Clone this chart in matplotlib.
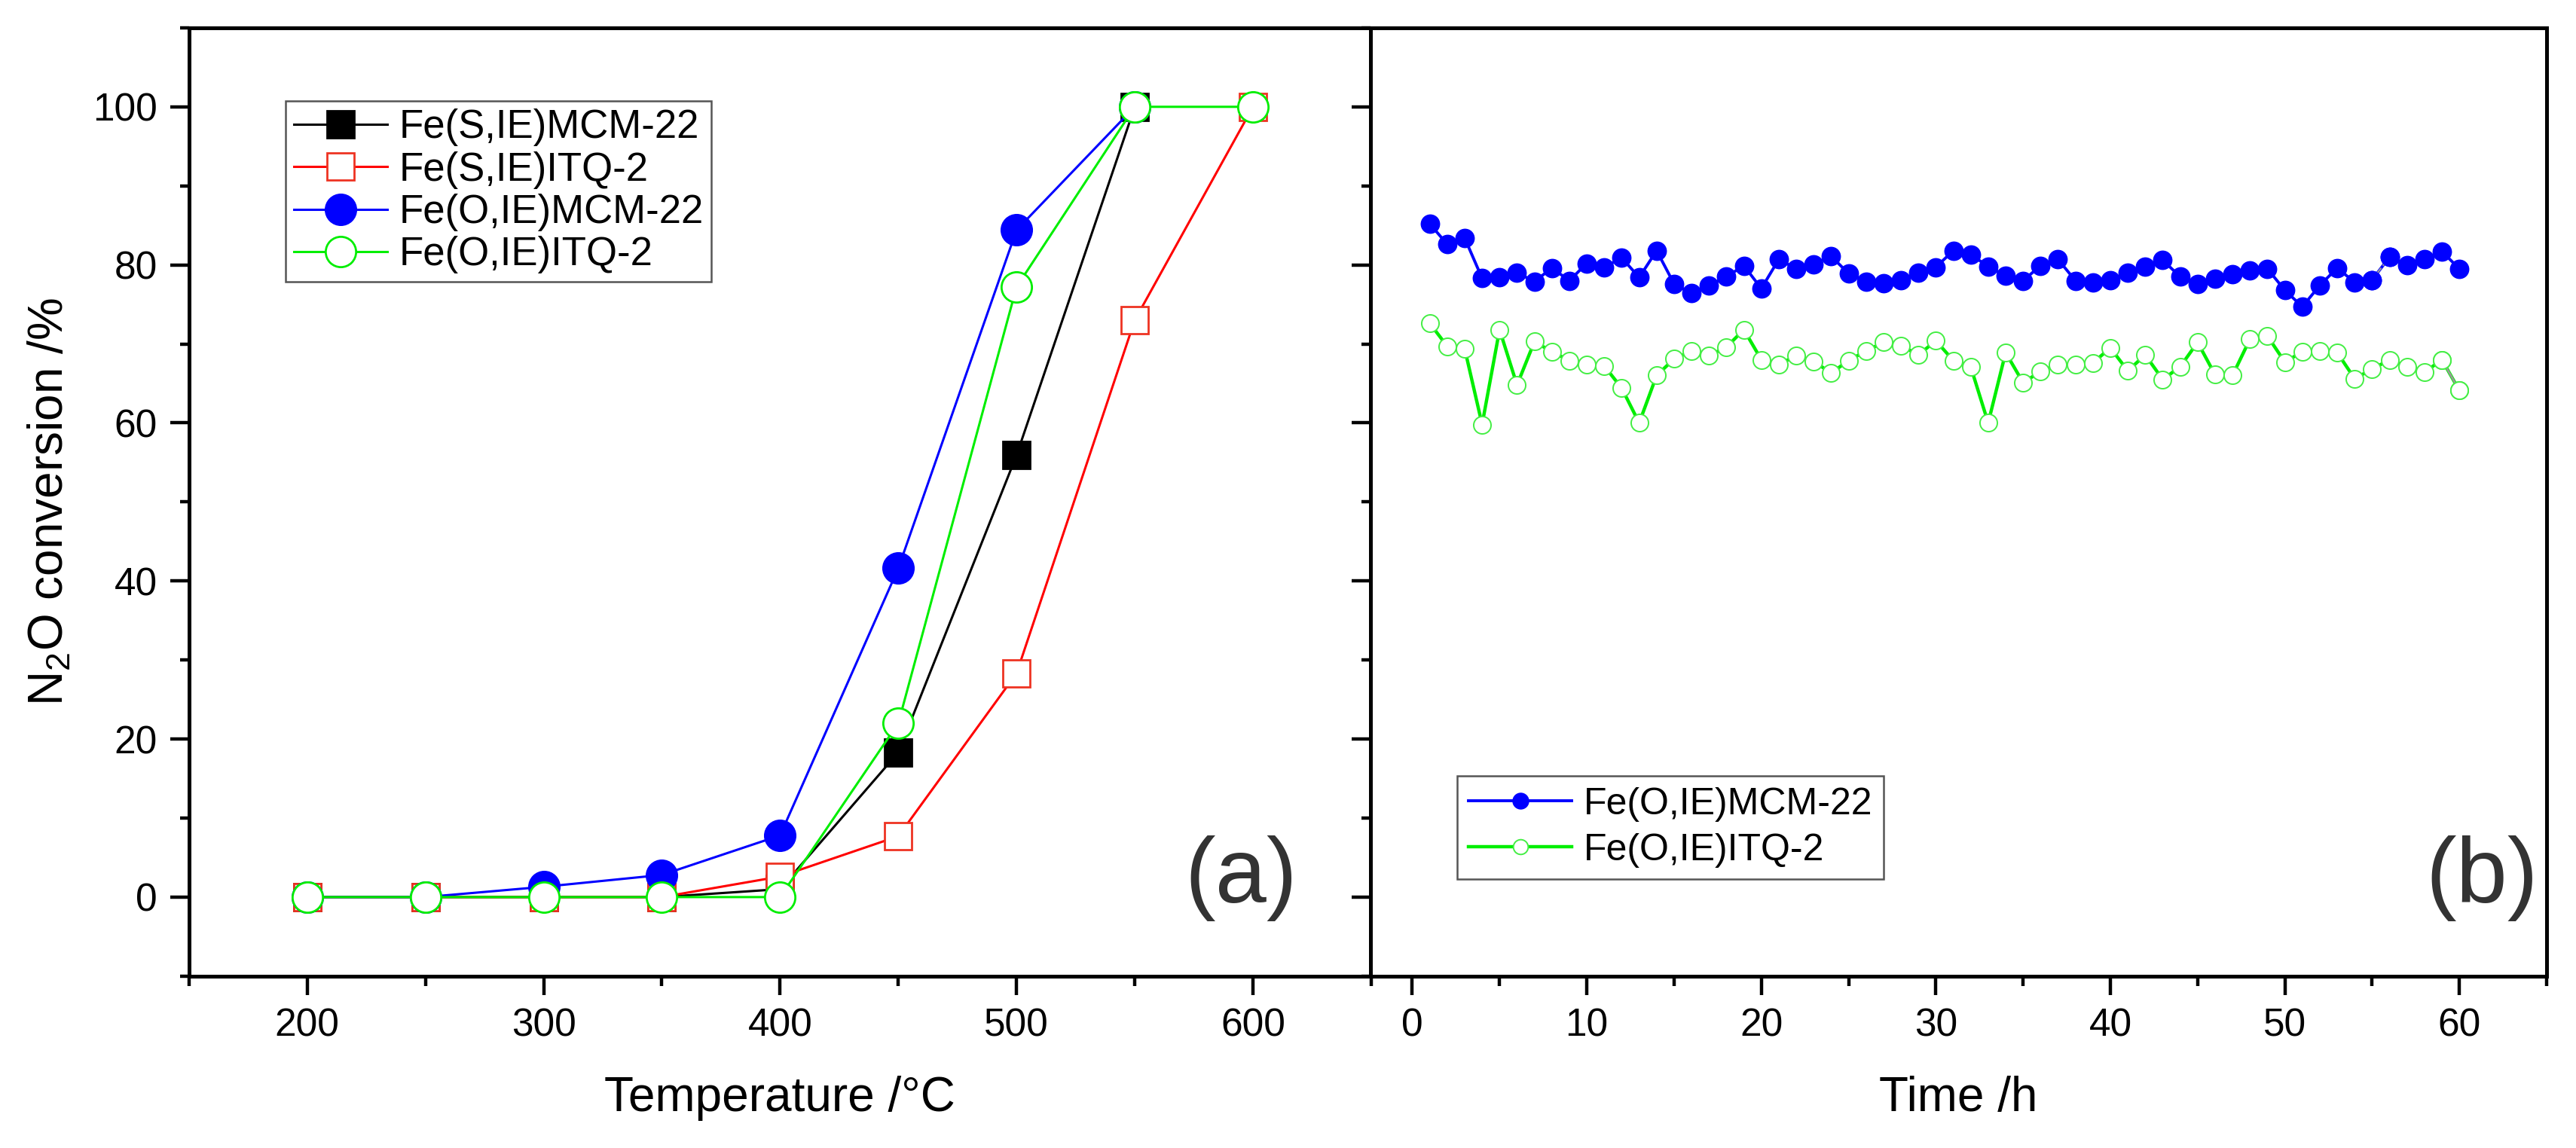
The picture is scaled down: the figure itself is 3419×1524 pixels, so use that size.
import matplotlib
matplotlib.use("Agg")
import matplotlib.pyplot as plt
from matplotlib.ticker import MultipleLocator

plt.rcParams['font.family'] = ['Liberation Sans', 'DejaVu Sans']
plt.rcParams['mathtext.default'] = 'regular'

# (a) light-off curves
temperature = [200, 250, 300, 350, 400, 450, 500, 550, 600]
s_mcm22 = [0, 0, 0, 0, 1.0, 18.3, 55.9, 100]
s_itq2 = [0, 0, 0, 0, 2.6, 7.7, 28.3, 73.0, 100]
o_mcm22 = [0, 0, 1.3, 2.8, 7.8, 41.6, 84.4, 100]
o_itq2 = [0, 0, 0, 0, 0, 22.0, 77.2, 100, 100]

# (b) stability test at constant temperature
time_h = list(range(1, 61))
o_mcm22_time = [85.2, 82.6, 83.4, 78.3, 78.4, 79.0, 77.9, 79.6, 78.0, 80.2,
                79.7, 80.9, 78.4, 81.8, 77.6, 76.4, 77.4, 78.5, 79.9, 77.0,
                80.7, 79.5, 80.1, 81.1, 78.9, 77.9, 77.7, 78.1, 79.0, 79.7,
                81.8, 81.3, 79.8, 78.6, 78.0, 79.9, 80.7, 78.0, 77.8, 78.1,
                79.0, 79.8, 80.6, 78.5, 77.6, 78.2, 78.8, 79.3, 79.5, 76.8,
                74.7, 77.4, 79.6, 77.8, 78.1, 81.0, 80.0, 80.7, 81.7, 79.5]
o_itq2_time = [72.6, 69.7, 69.4, 59.8, 71.8, 64.8, 70.3, 69.0, 67.9, 67.4,
               67.2, 64.4, 60.0, 66.0, 68.1, 69.1, 68.5, 69.6, 71.8, 68.0,
               67.4, 68.5, 67.8, 66.3, 67.9, 69.1, 70.2, 69.8, 68.6, 70.4,
               67.9, 67.1, 60.0, 68.9, 65.1, 66.5, 67.4, 67.4, 67.6, 69.5,
               66.6, 68.6, 65.5, 67.1, 70.2, 66.1, 66.0, 70.6, 71.0, 67.7,
               69.0, 69.1, 68.9, 65.6, 66.8, 68.0, 67.1, 66.4, 68.0, 64.1]
# segments that Origin drew in grey
grey_seg_mcm = slice(54, 56)
grey_seg_itq = slice(58, 60)

BLUE = '#0000ff'
GREEN = '#00ee00'
RED = '#ff0000'

fig = plt.figure(figsize=(17.095, 7.62), dpi=200)
ax1 = fig.add_axes([0.07335, 0.14974, 0.45895, 0.82606])
ax2 = fig.add_axes([0.5320, 0.14974, 0.45659, 0.82606])


def style_axis(ax):
    for sp in ax.spines.values():
        sp.set_linewidth(1.8)
    ax.tick_params(which='major', direction='out', length=9, width=1.6,
                   labelsize=18.5, pad=6)
    ax.tick_params(which='minor', direction='out', length=4.5, width=1.6)
    ax.tick_params(top=False, right=False, which='both')
    ax.set_ylim(-10, 110)
    ax.yaxis.set_major_locator(MultipleLocator(20))
    ax.yaxis.set_minor_locator(MultipleLocator(10))


# ---- panel (a)
style_axis(ax1)
ax1.plot(temperature[:8], s_mcm22, color='black', lw=1.1, marker='s',
         ms=13, mfc='black', mec='black', label='Fe(S,IE)MCM-22')
ax1.plot(temperature, s_itq2, color=RED, lw=1.1, marker='s', ms=13,
         mfc='white', mec='#ee3322', mew=1.0, label='Fe(S,IE)ITQ-2')
ax1.plot(temperature[:8], o_mcm22, color=BLUE, lw=1.1, marker='o', ms=14.5,
         mfc=BLUE, mec=BLUE, label='Fe(O,IE)MCM-22')
ax1.plot(temperature, o_itq2, color=GREEN, lw=1.1, marker='o', ms=14.5,
         mfc='white', mec=GREEN, mew=1.0, label='Fe(O,IE)ITQ-2')
ax1.set_xlim(150, 650)
ax1.xaxis.set_major_locator(MultipleLocator(100))
ax1.xaxis.set_minor_locator(MultipleLocator(50))
ax1.set_xlabel('Temperature /°C', fontsize=23)
ax1.xaxis.set_label_coords(0.5, -0.105)
ax1.set_ylabel('N$_2$O conversion /%', fontsize=23)
ax1.yaxis.set_label_coords(-0.098, 0.5)
ax1.text(595, 2.4, '(a)', fontsize=44, color='#333333', ha='center', va='center')
leg1 = ax1.legend(loc='upper left', bbox_to_anchor=(0.0817, 0.923),
                  borderaxespad=0, fontsize=19, handlelength=2.35,
                  handletextpad=0.3, labelspacing=0.12, borderpad=0.2,
                  fancybox=False, edgecolor='#555555', framealpha=1)
leg1.get_frame().set_linewidth(0.9)

# ---- panel (b)
style_axis(ax2)
ax2.tick_params(axis='y', labelleft=False)
ax2.plot(time_h, o_mcm22_time, color=BLUE, lw=1.4, marker='o', ms=8.3,
         mfc=BLUE, mec=BLUE, label='Fe(O,IE)MCM-22', zorder=2)
ax2.plot(time_h, o_itq2_time, color=GREEN, lw=1.6, marker='o', ms=8.3,
         mfc='white', mec='#44ee44', mew=0.7, label='Fe(O,IE)ITQ-2', zorder=2)
ax2.plot(time_h[grey_seg_mcm], o_mcm22_time[grey_seg_mcm], color='#999999',
         lw=0.8, ls='--', zorder=3)
ax2.plot(time_h[grey_seg_itq], o_itq2_time[grey_seg_itq], color='#999999',
         lw=1.0, zorder=3)
ax2.plot(time_h[grey_seg_mcm], o_mcm22_time[grey_seg_mcm], ls='none',
         marker='o', ms=8.3, mfc=BLUE, mec=BLUE, zorder=4)
ax2.plot(time_h[grey_seg_itq], o_itq2_time[grey_seg_itq], ls='none',
         marker='o', ms=8.3, mfc='white', mec='#44ee44', mew=0.7, zorder=4)
ax2.set_xlim(-2.4, 65)
ax2.xaxis.set_major_locator(MultipleLocator(10))
ax2.xaxis.set_minor_locator(MultipleLocator(5))
ax2.set_xlabel('Time /h', fontsize=23)
ax2.xaxis.set_label_coords(0.5, -0.105)
ax2.text(61.3, 2.4, '(b)', fontsize=44, color='#333333', ha='center', va='center')
leg2 = ax2.legend(loc='upper left', bbox_to_anchor=(0.0737, 0.2112),
                  borderaxespad=0, fontsize=18, handlelength=2.75,
                  handletextpad=0.3, labelspacing=0.3, borderpad=0.3,
                  markerscale=0.85, fancybox=False, edgecolor='#555555',
                  framealpha=1)
leg2.get_frame().set_linewidth(0.9)

fig.savefig('out.png', dpi=200)
